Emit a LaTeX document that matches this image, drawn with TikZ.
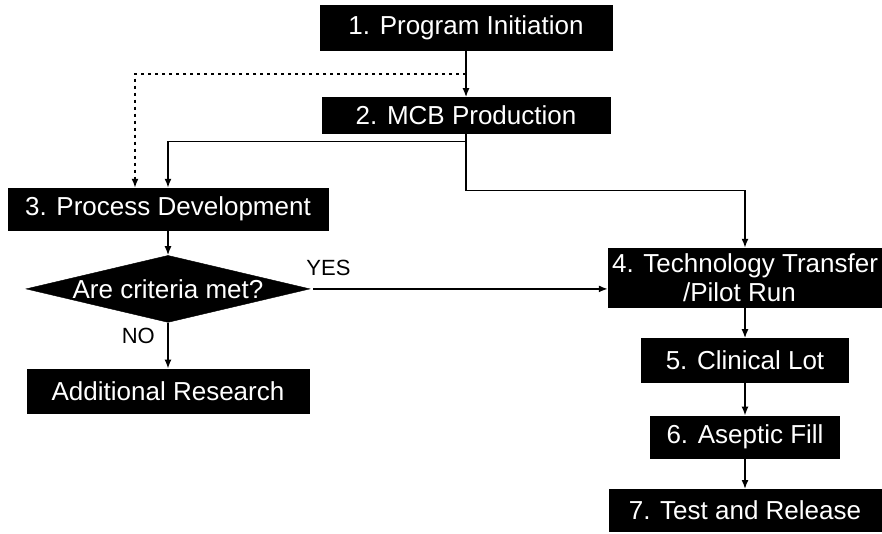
\documentclass[tikz,border=0pt]{standalone}
\usepackage{fontspec}
\setmainfont{Liberation Sans}
\usetikzlibrary{arrows.meta,positioning,shapes.geometric,calc}

\begin{document}
\begin{tikzpicture}[x=1pt, y=1pt,
  box/.style={draw, fill=black, text=white, font=\fontsize{26}{29}\selectfont, inner sep=2pt},
  decision/.style={diamond, draw, fill=black, text=white, font=\fontsize{26}{29}\selectfont, aspect=4.24, inner xsep=-10pt, inner ysep=0pt, minimum width=284pt, minimum height=67pt},
  lbl/.style={font=\fontsize{22}{24}\selectfont, inner sep=1pt},
  arr/.style={-{Latex[length=9pt,width=7pt]}, line width=1.6pt},
  dotline/.style={dash pattern=on 3pt off 4pt}]
  \clip (0,0) rectangle (882,-533);
  \node[box, minimum width=292pt, minimum height=45pt] (init) at (466,-27.5) {1. Program Initiation};
  \node[box, minimum width=288pt, minimum height=36pt, below=47pt of init] (mcb) {2. MCB Production};
  \node[box, minimum width=320pt, minimum height=42pt] (pd) at (168,-209) {3. Process Development};
  \node[decision, below=25pt of pd] (crit) {Are criteria met?};
  \node[box, minimum width=282pt, minimum height=44pt, below=46pt of crit] (ar) {Additional Research};
  \node[box, minimum width=274pt, minimum height=59pt, align=left] (tt) at (745,-277.5) {4. Technology Transfer\\\hspace*{71pt}/Pilot Run};
  \node[box, minimum width=207pt, minimum height=44pt, below=31pt of tt] (cl) {5. Clinical Lot};
  \node[box, minimum width=189pt, minimum height=42pt, below=33pt of cl] (af) {6. Aseptic Fill};
  \node[box, minimum width=272pt, minimum height=42pt, below=31pt of af] (tr) {7. Test and Release};
  \node[lbl, above right=12pt and -5pt of crit.east] (yes) {YES};
  \node[lbl, below left=4pt and 12pt of crit.south] (no) {NO};
  \coordinate (tap) at ($(init.south)!0.5!(mcb.north)$);
  \draw[arr] (init) -- (mcb);
  \draw[arr, dotline] (tap) -| ([xshift=-33pt]pd.north);
  \draw[arr] (mcb.south) -- ++(0,-8pt) -| (pd.north);
  \draw[arr] (mcb.south) -- ++(0,-57pt) -| (tt.north);
  \draw[arr] (pd) -- (crit);
  \draw[arr] ([xshift=3pt]crit.east) -- (crit.east -| tt.west);
  \draw[arr] (crit) -- (ar);
  \draw[arr] (tt) -- (cl); \draw[arr] (cl) -- (af); \draw[arr] (af) -- (tr);
\end{tikzpicture}
\end{document}
